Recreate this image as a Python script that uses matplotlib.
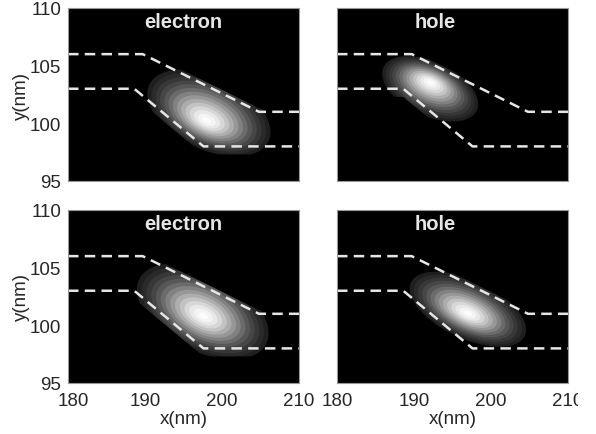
"""Electron and hole densities in a bent nanowire, four panels."""

import numpy as np
import matplotlib
matplotlib.use("Agg")
import matplotlib.pyplot as plt
from matplotlib.patches import Ellipse, Polygon
from matplotlib.transforms import Bbox, ScaledTranslation

plt.rcParams["font.family"] = ["Liberation Sans", "DejaVu Sans"]

# wire boundaries in nm
upper_x = [180, 189.7, 204.8, 210]
upper_y = [106, 106, 101, 101]
lower_x = [180, 188.6, 197.6, 210]
lower_y = [103, 103, 98, 98]

titles = ["electron", "hole", "electron", "hole"]
title_x = [195, 192.7, 195, 192.7]

# density blobs: outer contour and brightest point
outer_x = [198.3, 192.1, 197.5, 197.0]
outer_y = [100.9, 103.0, 101.2, 101.4]
peak_x = [198.0, 192.1, 197.6, 197.0]
peak_y = [100.2, 103.6, 100.8, 101.0]
semi_major = [8.2, 6.4, 8.8, 7.8]
semi_minor = [3.3, 2.45, 3.6, 2.65]
tilt = [-14, -14, -15, -15]

x_ticks = [180, 190, 200, 210]
y_ticks = [95, 100, 105, 110]

W, H = 596, 435
# panel boxes in pixels: left, top
panel_left = [68, 337, 68, 337]
panel_top = [9, 9, 211, 211]
panel_w, panel_h = 231, 173
n_bands = 14

fig = plt.figure(figsize=(W / 100, H / 100), dpi=100)

for i in range(4):
    ax = fig.add_axes([panel_left[i] / W, 1 - (panel_top[i] + panel_h) / H, panel_w / W, panel_h / H])
    ax.set_facecolor("black")
    ax.set_xlim(180, 210)
    ax.set_ylim(95, 110)

    # blob stays inside the wire, with a little spill past the dashes
    wire = np.column_stack([upper_x + lower_x[::-1],
                            [y + 0.3 for y in upper_y] + [y - 0.7 for y in lower_y[::-1]]])
    clip = Polygon(wire, transform=ax.transData, facecolor="none", edgecolor="none")
    ax.add_patch(clip)

    # nested filled contours, darkest outside
    for t in np.linspace(1, 1 / n_bands, n_bands):
        cx = peak_x[i] + (outer_x[i] - peak_x[i]) * t
        cy = peak_y[i] + (outer_y[i] - peak_y[i]) * t
        level = np.exp(-2.1 * t ** 2)
        blob = Ellipse((cx, cy), 2 * semi_major[i] * t, 2 * semi_minor[i] * t, angle=tilt[i],
                       facecolor=str(round(level, 3)), edgecolor="none")
        ax.add_patch(blob)
        blob.set_clip_path(clip)

    ax.plot(upper_x, upper_y, color="0.9", lw=1.8, dashes=(4.2, 2.5))
    ax.plot(lower_x, lower_y, color="0.9", lw=1.8, dashes=(4.2, 2.5))
    ax.text(title_x[i], 108.8, titles[i], color="0.9", fontsize=14.5, fontweight="bold",
            ha="center", va="center")

    ax.set_xticks(x_ticks)
    ax.set_yticks(y_ticks)
    ax.tick_params(length=0, labelsize=13.5, labelcolor="0.15", pad=5)
    ax.tick_params(axis="x", pad=6.5)
    for spine in ax.spines.values():
        spine.set_color("0.6")
        spine.set_linewidth(0.8)

    if i % 2 == 0:
        ax.set_ylabel("y(nm)", fontsize=13.5, color="0.15", labelpad=0)
    else:
        ax.tick_params(labelleft=False)
    if i >= 2:
        ax.set_xlabel("x(nm)", fontsize=13.5, color="0.15", labelpad=1)
    else:
        ax.tick_params(labelbottom=False)

    if i == 2:
        # first x label sits a little right of its tick in the original
        first = ax.get_xticklabels()[0]
        first.set_transform(first.get_transform() + ScaledTranslation(5 / 100, 0, fig.dpi_scale_trans))
    if i == 3:
        # last x label is cut off at the right in the original
        last = ax.get_xticklabels()[-1]
        last.set_clip_box(Bbox([[0, 0], [578, H]]))
        last.set_clip_on(True)

fig.savefig("out.png", dpi=100)
